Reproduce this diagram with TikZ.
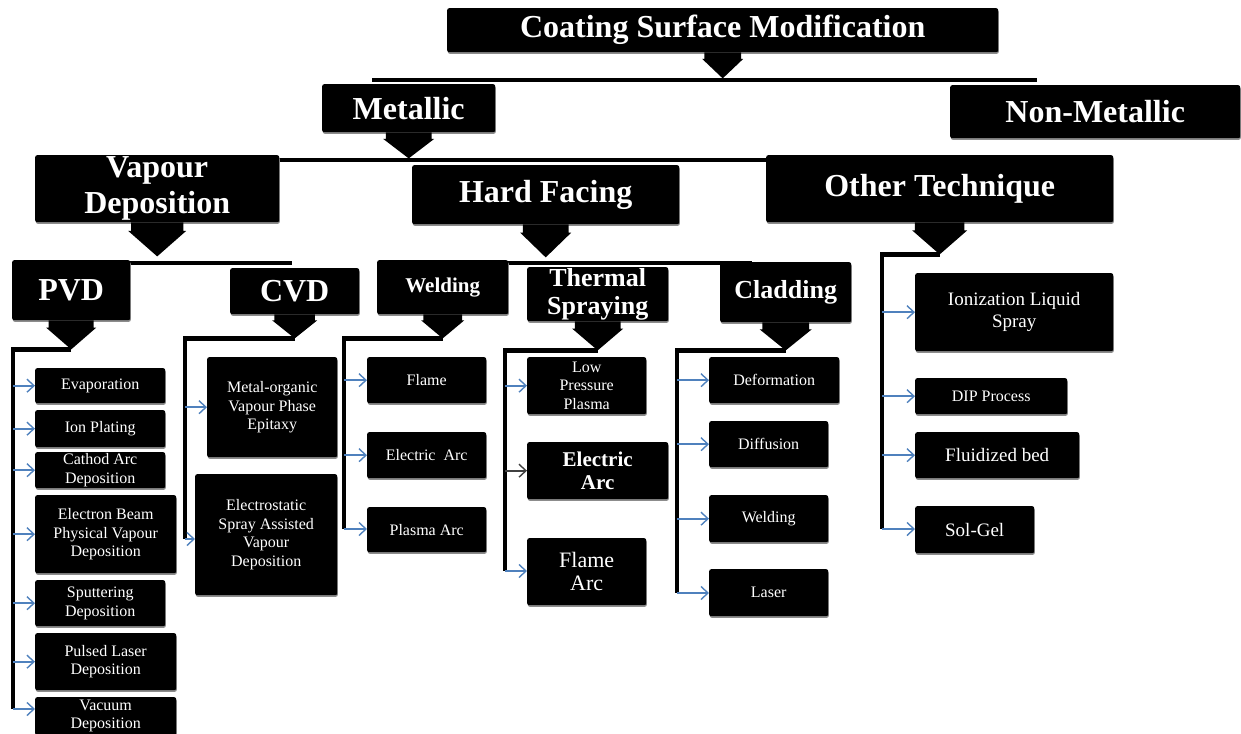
\documentclass[tikz,border=0pt]{standalone}
\usepackage{fontspec}
\setmainfont{Liberation Serif}
\usetikzlibrary{shadows,arrows.meta,calc}

\definecolor{leafblue}{HTML}{4F81BD}

\tikzset{
  box/.style={fill=black, rounded corners=2pt, text=white, align=center,
    inner sep=0pt, anchor=north west,
    drop shadow={shadow xshift=0.6pt, shadow yshift=-1.6pt, fill=black!45, opacity=1}},
  head/.style={font=\bfseries\fontsize{32}{36}\selectfont},
  subhead/.style={font=\bfseries\fontsize{26}{28}\selectfont},
  smallhead/.style={font=\bfseries\fontsize{21}{23}\selectfont},
  leaf/.style={font=\fontsize{16}{18.5}\selectfont},
  bigleaf/.style={font=\fontsize{19}{22}\selectfont},
  hugeleaf/.style={font=\fontsize{22}{23.5}\selectfont},
  bar/.style={line width=4.5pt},
  bus/.style={line width=4.5pt, line join=miter},
  tap/.style={leafblue, line width=1.6pt,
    -{Straight Barb[length=7pt, width=13pt, line width=1.4pt]}},
  darktap/.style={tap, black!75},
  pics/downarrow/.style 2 args={code={
    \fill[black] (-0.45*#1,0) -- (0.45*#1,0) -- (0.45*#1,0.25*#2) -- (0.5*#1,0.25*#2)
      -- (0,#2) -- (-0.5*#1,0.25*#2) -- (-0.45*#1,0.25*#2) -- cycle;}},
}

% \putbox{name}{left}{top}{right}{bottom}{style}{text}
\newcommand\putbox[7]{%
  \node[box,#6,minimum width={(#4-#2)*1pt},minimum height={(#5-#3)*1pt}]
    (#1) at (#2,#3) {#7};}

\begin{document}
\begin{tikzpicture}[x=1pt,y=-1pt]
\useasboundingbox (0,0) rectangle (1241,733);
\clip (0,0) rectangle (1241,733);

% horizontal bars joining siblings
\coordinate (b1w) at (372,80);  \coordinate (b1e) at (1037,80);
\coordinate (b2w) at (200,160); \coordinate (b2e) at (800,160);
\coordinate (b3w) at (100,263); \coordinate (b3e) at (292,263);
\coordinate (b4w) at (420,263); \coordinate (b4e) at (752,263);
\draw[bar] (b1w) -- (b1e);
\draw[bar] (b2w) -- (b2e);
\draw[bar] (b3w) -- (b3e);
\draw[bar] (b4w) -- (b4e);

% main hierarchy
\putbox{csm}{447}{8}{998}{52}{head}{Coating Surface Modification}
\putbox{met}{322}{84}{495}{132}{head}{Metallic}
\putbox{nonmet}{950}{85}{1240}{138}{head}{Non-Metallic}
\putbox{vd}{35}{155}{279}{222}{head}{Vapour\\Deposition}
\putbox{hf}{412}{165}{679}{224}{head}{Hard Facing}
\putbox{ot}{766}{155}{1113}{222}{head}{Other Technique}
\putbox{pvd}{12}{260}{130}{320}{head}{PVD}
\putbox{cvd}{230}{268}{359}{314}{head}{CVD}
\putbox{weld}{377}{260}{508}{314}{smallhead}{Welding}
\putbox{ts}{527}{267}{668}{321}{subhead}{Thermal\\Spraying}
\putbox{clad}{720}{262}{851}{322}{subhead}{Cladding}

% block arrows under the parent boxes
\pic at (csm.south)  {downarrow={41}{26}};
\pic at (met.south)  {downarrow={51}{26}};
\pic at (vd.south)   {downarrow={58}{34}};
\pic at (hf.south)   {downarrow={51}{33}};
\pic at (ot.south)   {downarrow={55}{32}};
\pic at (pvd.south)  {downarrow={50}{29}};
\pic at (cvd.south)  {downarrow={45}{24}};
\pic at (weld.south) {downarrow={43}{24}};
\pic at (ts.south)   {downarrow={51}{29}};
\pic at (clad.south) {downarrow={52}{28}};

% PVD methods
\putbox{evap}{35}{368}{165}{403}{leaf}{Evaporation}
\putbox{ionp}{35}{410}{165}{447}{leaf}{Ion Plating}
\putbox{cathod}{35}{452}{165}{488}{leaf}{Cathod Arc\\Deposition}
\putbox{ebpvd}{35}{495}{176}{573}{leaf}{Electron Beam\\Physical Vapour\\Deposition}
\putbox{sput}{35}{580}{165}{626}{leaf}{Sputtering\\Deposition}
\putbox{pld}{35}{633}{176}{690}{leaf}{Pulsed Laser\\Deposition}
\putbox{vac}{35}{697}{176}{735}{leaf}{Vacuum\\Deposition}

% CVD methods
\putbox{movpe}{207}{357}{337}{457}{leaf}{Metal-organic\\Vapour Phase\\Epitaxy}
\putbox{esavd}{195}{474}{337}{595}{leaf}{Electrostatic\\Spray Assisted\\Vapour\\Deposition}

% welding methods
\putbox{wflame}{367}{357}{486}{403}{leaf}{Flame}
\putbox{wearc}{367}{432}{486}{478}{leaf}{Electric~ Arc}
\putbox{wparc}{367}{507}{486}{552}{leaf}{Plasma Arc}

% thermal spraying methods
\putbox{lpp}{527}{357}{646}{414}{leaf}{Low\\Pressure\\Plasma}
\putbox{tsearc}{527}{442}{668}{499}{smallhead}{Electric\\Arc}
\putbox{farc}{527}{538}{646}{605}{hugeleaf}{Flame\\Arc}

% cladding methods
\putbox{deform}{709}{357}{839}{403}{leaf}{Deformation}
\putbox{diffu}{709}{421}{828}{467}{leaf}{Diffusion}
\putbox{cweld}{709}{495}{828}{542}{leaf}{Welding}
\putbox{laser}{709}{569}{828}{616}{leaf}{Laser}

% other techniques
\putbox{ils}{915}{273}{1113}{351}{bigleaf}{Ionization Liquid\\Spray}
\putbox{dip}{915}{378}{1067}{414}{leaf}{DIP Process}
\putbox{fluid}{915}{432}{1079}{478}{bigleaf}{Fluidized bed}
\putbox{solgel}{915}{506}{1034}{553}{bigleaf}{Sol-Gel}

% rails leading from each block arrow to its methods
\coordinate (pvdtip)  at ($(pvd.south)+(0,29)$);  \coordinate (pvdfoot)  at (13,709);
\coordinate (cvdtip)  at ($(cvd.south)+(0,24)$);  \coordinate (cvdfoot)  at (185,539);
\coordinate (weldtip) at ($(weld.south)+(0,24)$); \coordinate (weldfoot) at (344,529);
\coordinate (tstip)   at ($(ts.south)+(0,29)$);   \coordinate (tsfoot)   at (505,571);
\coordinate (cladtip) at ($(clad.south)+(0,28)$); \coordinate (cladfoot) at (677,593);
\coordinate (ottip)   at ($(ot.south)+(0,32)$);   \coordinate (otfoot)   at (882,529);
\draw[bus] (pvdtip)  -| (pvdfoot);
\draw[bus] (cvdtip)  -| (cvdfoot);
\draw[bus] (weldtip) -| (weldfoot);
\draw[bus] (tstip)   -| (tsfoot);
\draw[bus] (cladtip) -| (cladfoot);
\draw[bus] (ottip)   -| (otfoot);

% taps into the method boxes
\foreach \b in {evap,ionp,cathod,ebpvd,sput,pld}
  \draw[tap] (pvdfoot |- \b.west) -- (\b.west);
\draw[tap] (pvdfoot) -- (pvdfoot -| vac.west);
\draw[tap] (cvdfoot |- movpe.west) -- (movpe.west);
\draw[tap] (cvdfoot) -- (cvdfoot -| esavd.west);
\draw[tap] (weldfoot |- wflame.west) -- (wflame.west);
\draw[tap] (weldfoot |- wearc.west) -- (wearc.west);
\draw[tap] (weldfoot) -- (weldfoot -| wparc.west);
\draw[tap] (tsfoot |- lpp.west) -- (lpp.west);
\draw[darktap] (tsfoot |- tsearc.west) -- (tsearc.west);
\draw[tap] (tsfoot) -- (tsfoot -| farc.west);
\draw[tap] (cladfoot |- deform.west) -- (deform.west);
\draw[tap] (cladfoot |- diffu.west) -- (diffu.west);
\draw[tap] (cladfoot |- cweld.west) -- (cweld.west);
\draw[tap] (cladfoot) -- (cladfoot -| laser.west);
\draw[tap] (otfoot |- ils.west) -- (ils.west);
\draw[tap] (otfoot |- dip.west) -- (dip.west);
\draw[tap] (otfoot |- fluid.west) -- (fluid.west);
\draw[tap] (otfoot) -- (otfoot -| solgel.west);
\end{tikzpicture}
\end{document}
